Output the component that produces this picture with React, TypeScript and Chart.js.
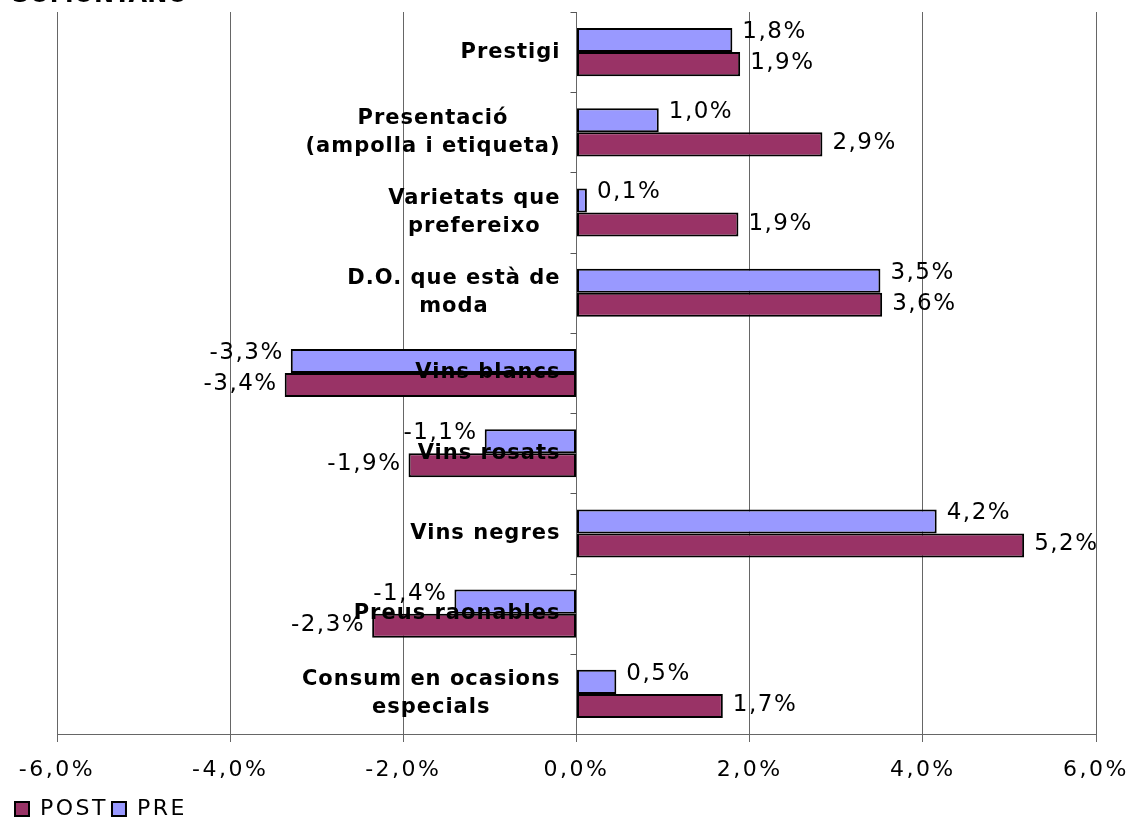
import React, { useEffect, useRef } from "react";
import { Chart, registerables } from "chart.js";

Chart.register(...registerables);

const title = "SOMONTANO";
const categories: string[][] = [
  ["Prestigi"],
  ["Presentació", "(ampolla i etiqueta)"],
  ["Varietats que", "prefereixo"],
  ["D.O. que està de", "moda"],
  ["Vins blancs"],
  ["Vins rosats"],
  ["Vins negres"],
  ["Preus raonables"],
  ["Consum en ocasions", "especials"],
];
const preValues = [1.8, 0.95, 0.12, 3.51, -3.3, -1.06, 4.16, -1.41, 0.46];
const postValues = [1.89, 2.84, 1.87, 3.53, -3.37, -1.94, 5.17, -2.36, 1.69];
const preLabels = ["1,8%", "1,0%", "0,1%", "3,5%", "-3,3%", "-1,1%", "4,2%", "-1,4%", "0,5%"];
const postLabels = ["1,9%", "2,9%", "1,9%", "3,6%", "-3,4%", "-1,9%", "5,2%", "-2,3%", "1,7%"];
const xTickValues = [-6, -4, -2, 0, 2, 4, 6];
const xTickLabels = ["-6,0%", "-4,0%", "-2,0%", "0,0%", "2,0%", "4,0%", "6,0%"];

const FONT = "'DejaVu Sans', Verdana, sans-serif";

const spacingPlugin = {
  id: "spacing",
  beforeUpdate(chart: any) {
    chart.ctx.letterSpacing = "2.5px";
  },
  beforeDraw(chart: any) {
    chart.ctx.letterSpacing = "2.5px";
  },
};

const overlayPlugin = {
  id: "overlay",
  afterDatasetsDraw(chart: any) {
    const ctx = chart.ctx;
    const xs = chart.scales.x;
    const ys = chart.scales.y;
    const zero = xs.getPixelForValue(0);
    ctx.save();
    // small tick marks on zero axis at category boundaries
    ctx.strokeStyle = "#555";
    ctx.lineWidth = 1;
    const n = categories.length;
    const band = (ys.bottom - ys.top) / n;
    for (let i = 0; i <= n; i++) {
      const y = Math.round(ys.top + i * band) + 0.5;
      ctx.beginPath();
      ctx.moveTo(zero - 6, y);
      ctx.lineTo(zero, y);
      ctx.stroke();
    }
    // data labels
    ctx.fillStyle = "#000";
    ctx.font = `23px ${FONT}`;
    ctx.letterSpacing = "1.5px";
    ctx.textBaseline = "middle";
    const labelSets = [preLabels, postLabels];
    const yOff = [-8, -1];
    chart.data.datasets.forEach((ds: any, di: number) => {
      const meta = chart.getDatasetMeta(di);
      meta.data.forEach((el: any, i: number) => {
        const v = ds.data[i];
        const txt = labelSets[di][i];
        if (v >= 0) {
          ctx.textAlign = "left";
          ctx.fillText(txt, el.x + 10, el.y + yOff[di]);
        } else {
          ctx.textAlign = "right";
          ctx.fillText(txt, el.x - 7, el.y + yOff[di]);
        }
      });
    });
    // category labels
    ctx.font = `bold 21px ${FONT}`;
    ctx.letterSpacing = "1px";
    ctx.textAlign = "center";
    const right = zero - 16;
    const lh = 28;
    categories.forEach((lines, i) => {
      const cy = ys.getPixelForValue(i);
      let w = 0;
      lines.forEach((l) => (w = Math.max(w, ctx.measureText(l).width)));
      const cx = right - w / 2;
      lines.forEach((l, k) => {
        ctx.fillText(l, cx, cy + (k - (lines.length - 1) / 2) * lh);
      });
    });
    // cut title
    ctx.font = `bold 24px ${FONT}`;
    ctx.letterSpacing = "0px";
    ctx.textAlign = "left";
    ctx.textBaseline = "alphabetic";
    ctx.fillText(title, 12, 2);
    ctx.restore();
  },
};

export default function App() {
  const ref = useRef<HTMLCanvasElement | null>(null);
  useEffect(() => {
    if (!ref.current) return;
    Chart.defaults.font.family = FONT;
    const chart = new Chart(ref.current, {
      type: "bar",
      data: {
        labels: categories.map((c) => c.join(" ")),
        datasets: [
          {
            label: "PRE",
            data: preValues,
            backgroundColor: "#9999FF",
            borderColor: "#000",
            borderWidth: 2,
            borderSkipped: false,
          },
          {
            label: "POST",
            data: postValues,
            backgroundColor: "#993366",
            borderColor: "#000",
            borderWidth: 2,
            borderSkipped: false,
          },
        ],
      },
      options: {
        indexAxis: "y",
        responsive: false,
        animation: false,
        layout: { padding: { top: 12, right: 37, left: 11, bottom: -13 } },
        datasets: { bar: { barPercentage: 1, categoryPercentage: 0.6 } },
        scales: {
          x: {
            min: -6,
            max: 6,
            afterBuildTicks: (s: any) => {
              s.ticks = xTickValues.map((v) => ({ value: v }));
            },
            afterFit: (s: any) => {
              s.height = 60;
              s.paddingLeft = 0;
              s.paddingRight = 0;
            },
            ticks: {
              color: "#000",
              font: { size: 22 },
              padding: 15,
              callback: (v: any) => {
                const idx = xTickValues.indexOf(Number(v));
                return idx >= 0 ? xTickLabels[idx] : "";
              },
            },
            grid: { color: "#666", lineWidth: 1, tickLength: 8, tickColor: "#666" },
            border: { display: true, color: "#666" },
          },
          y: {
            position: "left",
            ticks: { display: false },
            grid: { display: false },
            border: { display: false },
            afterFit: (s: any) => {
              s.width = 46;
            },
          },
        },
        plugins: {
          legend: {
            position: "bottom",
            align: "start",
            reverse: true,
            labels: {
              color: "#000",
              font: { size: 22 },
              boxWidth: 14,
              boxHeight: 14,
              padding: 4,
            },
          },
          tooltip: { enabled: false },
          title: { display: false },
        },
      },
      plugins: [spacingPlugin, overlayPlugin],
    });
    return () => chart.destroy();
  }, []);
  return (
    <div style={{ position: "fixed", left: 0, top: 0, width: 1133, height: 817, background: "#fff" }}>
      <canvas ref={ref} width={1133} height={817} />
    </div>
  );
}
